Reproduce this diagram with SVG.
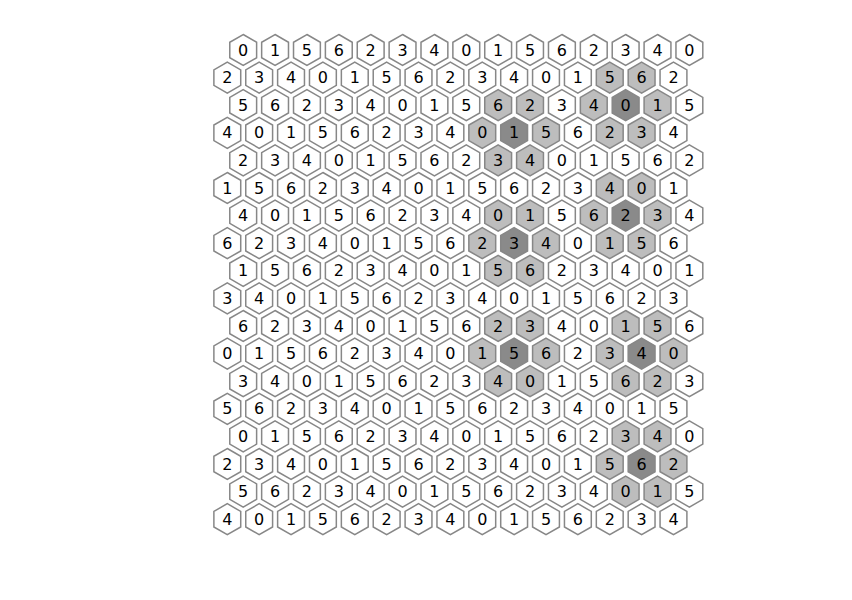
<svg xmlns="http://www.w3.org/2000/svg" xmlns:xlink="http://www.w3.org/1999/xlink" width="852" height="600" viewBox="0 0 852 600">
<defs>
<path id="hx" d="M0,-15.5 L13.42,-7.75 L13.42,7.75 L0,15.5 L-13.42,7.75 L-13.42,-7.75Z"/>
</defs>
<style>
use{fill:#ffffff;stroke:#878787;stroke-width:1.5}
.l use{fill:#bdbdbd}
.d use{fill:#8a8a8a}
text{font-family:"DejaVu Sans","Liberation Sans",sans-serif;font-size:16px;text-anchor:middle;fill:#000}
</style>
<rect width="852" height="600" fill="#ffffff"/>
<g id="connectors"/>
<g id="row0" transform="translate(0 50)">
<g id="n0-0" transform="translate(243.2 0)"><use href="#hx"/><text y="5.6">0</text></g>
<g id="n0-1" transform="translate(275.07 0)"><use href="#hx"/><text y="5.6">1</text></g>
<g id="n0-2" transform="translate(306.94 0)"><use href="#hx"/><text y="5.6">5</text></g>
<g id="n0-3" transform="translate(338.81 0)"><use href="#hx"/><text y="5.6">6</text></g>
<g id="n0-4" transform="translate(370.68 0)"><use href="#hx"/><text y="5.6">2</text></g>
<g id="n0-5" transform="translate(402.55 0)"><use href="#hx"/><text y="5.6">3</text></g>
<g id="n0-6" transform="translate(434.42 0)"><use href="#hx"/><text y="5.6">4</text></g>
<g id="n0-7" transform="translate(466.29 0)"><use href="#hx"/><text y="5.6">0</text></g>
<g id="n0-8" transform="translate(498.16 0)"><use href="#hx"/><text y="5.6">1</text></g>
<g id="n0-9" transform="translate(530.03 0)"><use href="#hx"/><text y="5.6">5</text></g>
<g id="n0-10" transform="translate(561.9 0)"><use href="#hx"/><text y="5.6">6</text></g>
<g id="n0-11" transform="translate(593.77 0)"><use href="#hx"/><text y="5.6">2</text></g>
<g id="n0-12" transform="translate(625.64 0)"><use href="#hx"/><text y="5.6">3</text></g>
<g id="n0-13" transform="translate(657.51 0)"><use href="#hx"/><text y="5.6">4</text></g>
<g id="n0-14" transform="translate(689.38 0)"><use href="#hx"/><text y="5.6">0</text></g>
</g>
<g id="row1" transform="translate(0 77.6)">
<g id="n1-0" transform="translate(227.3 0)"><use href="#hx"/><text y="5.6">2</text></g>
<g id="n1-1" transform="translate(259.17 0)"><use href="#hx"/><text y="5.6">3</text></g>
<g id="n1-2" transform="translate(291.04 0)"><use href="#hx"/><text y="5.6">4</text></g>
<g id="n1-3" transform="translate(322.91 0)"><use href="#hx"/><text y="5.6">0</text></g>
<g id="n1-4" transform="translate(354.78 0)"><use href="#hx"/><text y="5.6">1</text></g>
<g id="n1-5" transform="translate(386.65 0)"><use href="#hx"/><text y="5.6">5</text></g>
<g id="n1-6" transform="translate(418.52 0)"><use href="#hx"/><text y="5.6">6</text></g>
<g id="n1-7" transform="translate(450.39 0)"><use href="#hx"/><text y="5.6">2</text></g>
<g id="n1-8" transform="translate(482.26 0)"><use href="#hx"/><text y="5.6">3</text></g>
<g id="n1-9" transform="translate(514.13 0)"><use href="#hx"/><text y="5.6">4</text></g>
<g id="n1-10" transform="translate(546 0)"><use href="#hx"/><text y="5.6">0</text></g>
<g id="n1-11" transform="translate(577.87 0)"><use href="#hx"/><text y="5.6">1</text></g>
<g id="n1-12" class="l" transform="translate(609.74 0)"><use href="#hx"/><text y="5.6">5</text></g>
<g id="n1-13" class="l" transform="translate(641.61 0)"><use href="#hx"/><text y="5.6">6</text></g>
<g id="n1-14" transform="translate(673.48 0)"><use href="#hx"/><text y="5.6">2</text></g>
</g>
<g id="row2" transform="translate(0 105.2)">
<g id="n2-0" transform="translate(243.2 0)"><use href="#hx"/><text y="5.6">5</text></g>
<g id="n2-1" transform="translate(275.07 0)"><use href="#hx"/><text y="5.6">6</text></g>
<g id="n2-2" transform="translate(306.94 0)"><use href="#hx"/><text y="5.6">2</text></g>
<g id="n2-3" transform="translate(338.81 0)"><use href="#hx"/><text y="5.6">3</text></g>
<g id="n2-4" transform="translate(370.68 0)"><use href="#hx"/><text y="5.6">4</text></g>
<g id="n2-5" transform="translate(402.55 0)"><use href="#hx"/><text y="5.6">0</text></g>
<g id="n2-6" transform="translate(434.42 0)"><use href="#hx"/><text y="5.6">1</text></g>
<g id="n2-7" transform="translate(466.29 0)"><use href="#hx"/><text y="5.6">5</text></g>
<g id="n2-8" class="l" transform="translate(498.16 0)"><use href="#hx"/><text y="5.6">6</text></g>
<g id="n2-9" class="l" transform="translate(530.03 0)"><use href="#hx"/><text y="5.6">2</text></g>
<g id="n2-10" transform="translate(561.9 0)"><use href="#hx"/><text y="5.6">3</text></g>
<g id="n2-11" class="l" transform="translate(593.77 0)"><use href="#hx"/><text y="5.6">4</text></g>
<g id="n2-12" class="d" transform="translate(625.64 0)"><use href="#hx"/><text y="5.6">0</text></g>
<g id="n2-13" class="l" transform="translate(657.51 0)"><use href="#hx"/><text y="5.6">1</text></g>
<g id="n2-14" transform="translate(689.38 0)"><use href="#hx"/><text y="5.6">5</text></g>
</g>
<g id="row3" transform="translate(0 132.8)">
<g id="n3-0" transform="translate(227.3 0)"><use href="#hx"/><text y="5.6">4</text></g>
<g id="n3-1" transform="translate(259.17 0)"><use href="#hx"/><text y="5.6">0</text></g>
<g id="n3-2" transform="translate(291.04 0)"><use href="#hx"/><text y="5.6">1</text></g>
<g id="n3-3" transform="translate(322.91 0)"><use href="#hx"/><text y="5.6">5</text></g>
<g id="n3-4" transform="translate(354.78 0)"><use href="#hx"/><text y="5.6">6</text></g>
<g id="n3-5" transform="translate(386.65 0)"><use href="#hx"/><text y="5.6">2</text></g>
<g id="n3-6" transform="translate(418.52 0)"><use href="#hx"/><text y="5.6">3</text></g>
<g id="n3-7" transform="translate(450.39 0)"><use href="#hx"/><text y="5.6">4</text></g>
<g id="n3-8" class="l" transform="translate(482.26 0)"><use href="#hx"/><text y="5.6">0</text></g>
<g id="n3-9" class="d" transform="translate(514.13 0)"><use href="#hx"/><text y="5.6">1</text></g>
<g id="n3-10" class="l" transform="translate(546 0)"><use href="#hx"/><text y="5.6">5</text></g>
<g id="n3-11" transform="translate(577.87 0)"><use href="#hx"/><text y="5.6">6</text></g>
<g id="n3-12" class="l" transform="translate(609.74 0)"><use href="#hx"/><text y="5.6">2</text></g>
<g id="n3-13" class="l" transform="translate(641.61 0)"><use href="#hx"/><text y="5.6">3</text></g>
<g id="n3-14" transform="translate(673.48 0)"><use href="#hx"/><text y="5.6">4</text></g>
</g>
<g id="row4" transform="translate(0 160.4)">
<g id="n4-0" transform="translate(243.2 0)"><use href="#hx"/><text y="5.6">2</text></g>
<g id="n4-1" transform="translate(275.07 0)"><use href="#hx"/><text y="5.6">3</text></g>
<g id="n4-2" transform="translate(306.94 0)"><use href="#hx"/><text y="5.6">4</text></g>
<g id="n4-3" transform="translate(338.81 0)"><use href="#hx"/><text y="5.6">0</text></g>
<g id="n4-4" transform="translate(370.68 0)"><use href="#hx"/><text y="5.6">1</text></g>
<g id="n4-5" transform="translate(402.55 0)"><use href="#hx"/><text y="5.6">5</text></g>
<g id="n4-6" transform="translate(434.42 0)"><use href="#hx"/><text y="5.6">6</text></g>
<g id="n4-7" transform="translate(466.29 0)"><use href="#hx"/><text y="5.6">2</text></g>
<g id="n4-8" class="l" transform="translate(498.16 0)"><use href="#hx"/><text y="5.6">3</text></g>
<g id="n4-9" class="l" transform="translate(530.03 0)"><use href="#hx"/><text y="5.6">4</text></g>
<g id="n4-10" transform="translate(561.9 0)"><use href="#hx"/><text y="5.6">0</text></g>
<g id="n4-11" transform="translate(593.77 0)"><use href="#hx"/><text y="5.6">1</text></g>
<g id="n4-12" transform="translate(625.64 0)"><use href="#hx"/><text y="5.6">5</text></g>
<g id="n4-13" transform="translate(657.51 0)"><use href="#hx"/><text y="5.6">6</text></g>
<g id="n4-14" transform="translate(689.38 0)"><use href="#hx"/><text y="5.6">2</text></g>
</g>
<g id="row5" transform="translate(0 188)">
<g id="n5-0" transform="translate(227.3 0)"><use href="#hx"/><text y="5.6">1</text></g>
<g id="n5-1" transform="translate(259.17 0)"><use href="#hx"/><text y="5.6">5</text></g>
<g id="n5-2" transform="translate(291.04 0)"><use href="#hx"/><text y="5.6">6</text></g>
<g id="n5-3" transform="translate(322.91 0)"><use href="#hx"/><text y="5.6">2</text></g>
<g id="n5-4" transform="translate(354.78 0)"><use href="#hx"/><text y="5.6">3</text></g>
<g id="n5-5" transform="translate(386.65 0)"><use href="#hx"/><text y="5.6">4</text></g>
<g id="n5-6" transform="translate(418.52 0)"><use href="#hx"/><text y="5.6">0</text></g>
<g id="n5-7" transform="translate(450.39 0)"><use href="#hx"/><text y="5.6">1</text></g>
<g id="n5-8" transform="translate(482.26 0)"><use href="#hx"/><text y="5.6">5</text></g>
<g id="n5-9" transform="translate(514.13 0)"><use href="#hx"/><text y="5.6">6</text></g>
<g id="n5-10" transform="translate(546 0)"><use href="#hx"/><text y="5.6">2</text></g>
<g id="n5-11" transform="translate(577.87 0)"><use href="#hx"/><text y="5.6">3</text></g>
<g id="n5-12" class="l" transform="translate(609.74 0)"><use href="#hx"/><text y="5.6">4</text></g>
<g id="n5-13" class="l" transform="translate(641.61 0)"><use href="#hx"/><text y="5.6">0</text></g>
<g id="n5-14" transform="translate(673.48 0)"><use href="#hx"/><text y="5.6">1</text></g>
</g>
<g id="row6" transform="translate(0 215.6)">
<g id="n6-0" transform="translate(243.2 0)"><use href="#hx"/><text y="5.6">4</text></g>
<g id="n6-1" transform="translate(275.07 0)"><use href="#hx"/><text y="5.6">0</text></g>
<g id="n6-2" transform="translate(306.94 0)"><use href="#hx"/><text y="5.6">1</text></g>
<g id="n6-3" transform="translate(338.81 0)"><use href="#hx"/><text y="5.6">5</text></g>
<g id="n6-4" transform="translate(370.68 0)"><use href="#hx"/><text y="5.6">6</text></g>
<g id="n6-5" transform="translate(402.55 0)"><use href="#hx"/><text y="5.6">2</text></g>
<g id="n6-6" transform="translate(434.42 0)"><use href="#hx"/><text y="5.6">3</text></g>
<g id="n6-7" transform="translate(466.29 0)"><use href="#hx"/><text y="5.6">4</text></g>
<g id="n6-8" class="l" transform="translate(498.16 0)"><use href="#hx"/><text y="5.6">0</text></g>
<g id="n6-9" class="l" transform="translate(530.03 0)"><use href="#hx"/><text y="5.6">1</text></g>
<g id="n6-10" transform="translate(561.9 0)"><use href="#hx"/><text y="5.6">5</text></g>
<g id="n6-11" class="l" transform="translate(593.77 0)"><use href="#hx"/><text y="5.6">6</text></g>
<g id="n6-12" class="d" transform="translate(625.64 0)"><use href="#hx"/><text y="5.6">2</text></g>
<g id="n6-13" class="l" transform="translate(657.51 0)"><use href="#hx"/><text y="5.6">3</text></g>
<g id="n6-14" transform="translate(689.38 0)"><use href="#hx"/><text y="5.6">4</text></g>
</g>
<g id="row7" transform="translate(0 243.2)">
<g id="n7-0" transform="translate(227.3 0)"><use href="#hx"/><text y="5.6">6</text></g>
<g id="n7-1" transform="translate(259.17 0)"><use href="#hx"/><text y="5.6">2</text></g>
<g id="n7-2" transform="translate(291.04 0)"><use href="#hx"/><text y="5.6">3</text></g>
<g id="n7-3" transform="translate(322.91 0)"><use href="#hx"/><text y="5.6">4</text></g>
<g id="n7-4" transform="translate(354.78 0)"><use href="#hx"/><text y="5.6">0</text></g>
<g id="n7-5" transform="translate(386.65 0)"><use href="#hx"/><text y="5.6">1</text></g>
<g id="n7-6" transform="translate(418.52 0)"><use href="#hx"/><text y="5.6">5</text></g>
<g id="n7-7" transform="translate(450.39 0)"><use href="#hx"/><text y="5.6">6</text></g>
<g id="n7-8" class="l" transform="translate(482.26 0)"><use href="#hx"/><text y="5.6">2</text></g>
<g id="n7-9" class="d" transform="translate(514.13 0)"><use href="#hx"/><text y="5.6">3</text></g>
<g id="n7-10" class="l" transform="translate(546 0)"><use href="#hx"/><text y="5.6">4</text></g>
<g id="n7-11" transform="translate(577.87 0)"><use href="#hx"/><text y="5.6">0</text></g>
<g id="n7-12" class="l" transform="translate(609.74 0)"><use href="#hx"/><text y="5.6">1</text></g>
<g id="n7-13" class="l" transform="translate(641.61 0)"><use href="#hx"/><text y="5.6">5</text></g>
<g id="n7-14" transform="translate(673.48 0)"><use href="#hx"/><text y="5.6">6</text></g>
</g>
<g id="row8" transform="translate(0 270.8)">
<g id="n8-0" transform="translate(243.2 0)"><use href="#hx"/><text y="5.6">1</text></g>
<g id="n8-1" transform="translate(275.07 0)"><use href="#hx"/><text y="5.6">5</text></g>
<g id="n8-2" transform="translate(306.94 0)"><use href="#hx"/><text y="5.6">6</text></g>
<g id="n8-3" transform="translate(338.81 0)"><use href="#hx"/><text y="5.6">2</text></g>
<g id="n8-4" transform="translate(370.68 0)"><use href="#hx"/><text y="5.6">3</text></g>
<g id="n8-5" transform="translate(402.55 0)"><use href="#hx"/><text y="5.6">4</text></g>
<g id="n8-6" transform="translate(434.42 0)"><use href="#hx"/><text y="5.6">0</text></g>
<g id="n8-7" transform="translate(466.29 0)"><use href="#hx"/><text y="5.6">1</text></g>
<g id="n8-8" class="l" transform="translate(498.16 0)"><use href="#hx"/><text y="5.6">5</text></g>
<g id="n8-9" class="l" transform="translate(530.03 0)"><use href="#hx"/><text y="5.6">6</text></g>
<g id="n8-10" transform="translate(561.9 0)"><use href="#hx"/><text y="5.6">2</text></g>
<g id="n8-11" transform="translate(593.77 0)"><use href="#hx"/><text y="5.6">3</text></g>
<g id="n8-12" transform="translate(625.64 0)"><use href="#hx"/><text y="5.6">4</text></g>
<g id="n8-13" transform="translate(657.51 0)"><use href="#hx"/><text y="5.6">0</text></g>
<g id="n8-14" transform="translate(689.38 0)"><use href="#hx"/><text y="5.6">1</text></g>
</g>
<g id="row9" transform="translate(0 298.4)">
<g id="n9-0" transform="translate(227.3 0)"><use href="#hx"/><text y="5.6">3</text></g>
<g id="n9-1" transform="translate(259.17 0)"><use href="#hx"/><text y="5.6">4</text></g>
<g id="n9-2" transform="translate(291.04 0)"><use href="#hx"/><text y="5.6">0</text></g>
<g id="n9-3" transform="translate(322.91 0)"><use href="#hx"/><text y="5.6">1</text></g>
<g id="n9-4" transform="translate(354.78 0)"><use href="#hx"/><text y="5.6">5</text></g>
<g id="n9-5" transform="translate(386.65 0)"><use href="#hx"/><text y="5.6">6</text></g>
<g id="n9-6" transform="translate(418.52 0)"><use href="#hx"/><text y="5.6">2</text></g>
<g id="n9-7" transform="translate(450.39 0)"><use href="#hx"/><text y="5.6">3</text></g>
<g id="n9-8" transform="translate(482.26 0)"><use href="#hx"/><text y="5.6">4</text></g>
<g id="n9-9" transform="translate(514.13 0)"><use href="#hx"/><text y="5.6">0</text></g>
<g id="n9-10" transform="translate(546 0)"><use href="#hx"/><text y="5.6">1</text></g>
<g id="n9-11" transform="translate(577.87 0)"><use href="#hx"/><text y="5.6">5</text></g>
<g id="n9-12" transform="translate(609.74 0)"><use href="#hx"/><text y="5.6">6</text></g>
<g id="n9-13" transform="translate(641.61 0)"><use href="#hx"/><text y="5.6">2</text></g>
<g id="n9-14" transform="translate(673.48 0)"><use href="#hx"/><text y="5.6">3</text></g>
</g>
<g id="row10" transform="translate(0 326)">
<g id="n10-0" transform="translate(243.2 0)"><use href="#hx"/><text y="5.6">6</text></g>
<g id="n10-1" transform="translate(275.07 0)"><use href="#hx"/><text y="5.6">2</text></g>
<g id="n10-2" transform="translate(306.94 0)"><use href="#hx"/><text y="5.6">3</text></g>
<g id="n10-3" transform="translate(338.81 0)"><use href="#hx"/><text y="5.6">4</text></g>
<g id="n10-4" transform="translate(370.68 0)"><use href="#hx"/><text y="5.6">0</text></g>
<g id="n10-5" transform="translate(402.55 0)"><use href="#hx"/><text y="5.6">1</text></g>
<g id="n10-6" transform="translate(434.42 0)"><use href="#hx"/><text y="5.6">5</text></g>
<g id="n10-7" transform="translate(466.29 0)"><use href="#hx"/><text y="5.6">6</text></g>
<g id="n10-8" class="l" transform="translate(498.16 0)"><use href="#hx"/><text y="5.6">2</text></g>
<g id="n10-9" class="l" transform="translate(530.03 0)"><use href="#hx"/><text y="5.6">3</text></g>
<g id="n10-10" transform="translate(561.9 0)"><use href="#hx"/><text y="5.6">4</text></g>
<g id="n10-11" transform="translate(593.77 0)"><use href="#hx"/><text y="5.6">0</text></g>
<g id="n10-12" class="l" transform="translate(625.64 0)"><use href="#hx"/><text y="5.6">1</text></g>
<g id="n10-13" class="l" transform="translate(657.51 0)"><use href="#hx"/><text y="5.6">5</text></g>
<g id="n10-14" transform="translate(689.38 0)"><use href="#hx"/><text y="5.6">6</text></g>
</g>
<g id="row11" transform="translate(0 353.6)">
<g id="n11-0" transform="translate(227.3 0)"><use href="#hx"/><text y="5.6">0</text></g>
<g id="n11-1" transform="translate(259.17 0)"><use href="#hx"/><text y="5.6">1</text></g>
<g id="n11-2" transform="translate(291.04 0)"><use href="#hx"/><text y="5.6">5</text></g>
<g id="n11-3" transform="translate(322.91 0)"><use href="#hx"/><text y="5.6">6</text></g>
<g id="n11-4" transform="translate(354.78 0)"><use href="#hx"/><text y="5.6">2</text></g>
<g id="n11-5" transform="translate(386.65 0)"><use href="#hx"/><text y="5.6">3</text></g>
<g id="n11-6" transform="translate(418.52 0)"><use href="#hx"/><text y="5.6">4</text></g>
<g id="n11-7" transform="translate(450.39 0)"><use href="#hx"/><text y="5.6">0</text></g>
<g id="n11-8" class="l" transform="translate(482.26 0)"><use href="#hx"/><text y="5.6">1</text></g>
<g id="n11-9" class="d" transform="translate(514.13 0)"><use href="#hx"/><text y="5.6">5</text></g>
<g id="n11-10" class="l" transform="translate(546 0)"><use href="#hx"/><text y="5.6">6</text></g>
<g id="n11-11" transform="translate(577.87 0)"><use href="#hx"/><text y="5.6">2</text></g>
<g id="n11-12" class="l" transform="translate(609.74 0)"><use href="#hx"/><text y="5.6">3</text></g>
<g id="n11-13" class="d" transform="translate(641.61 0)"><use href="#hx"/><text y="5.6">4</text></g>
<g id="n11-14" class="l" transform="translate(673.48 0)"><use href="#hx"/><text y="5.6">0</text></g>
</g>
<g id="row12" transform="translate(0 381.2)">
<g id="n12-0" transform="translate(243.2 0)"><use href="#hx"/><text y="5.6">3</text></g>
<g id="n12-1" transform="translate(275.07 0)"><use href="#hx"/><text y="5.6">4</text></g>
<g id="n12-2" transform="translate(306.94 0)"><use href="#hx"/><text y="5.6">0</text></g>
<g id="n12-3" transform="translate(338.81 0)"><use href="#hx"/><text y="5.6">1</text></g>
<g id="n12-4" transform="translate(370.68 0)"><use href="#hx"/><text y="5.6">5</text></g>
<g id="n12-5" transform="translate(402.55 0)"><use href="#hx"/><text y="5.6">6</text></g>
<g id="n12-6" transform="translate(434.42 0)"><use href="#hx"/><text y="5.6">2</text></g>
<g id="n12-7" transform="translate(466.29 0)"><use href="#hx"/><text y="5.6">3</text></g>
<g id="n12-8" class="l" transform="translate(498.16 0)"><use href="#hx"/><text y="5.6">4</text></g>
<g id="n12-9" class="l" transform="translate(530.03 0)"><use href="#hx"/><text y="5.6">0</text></g>
<g id="n12-10" transform="translate(561.9 0)"><use href="#hx"/><text y="5.6">1</text></g>
<g id="n12-11" transform="translate(593.77 0)"><use href="#hx"/><text y="5.6">5</text></g>
<g id="n12-12" class="l" transform="translate(625.64 0)"><use href="#hx"/><text y="5.6">6</text></g>
<g id="n12-13" class="l" transform="translate(657.51 0)"><use href="#hx"/><text y="5.6">2</text></g>
<g id="n12-14" transform="translate(689.38 0)"><use href="#hx"/><text y="5.6">3</text></g>
</g>
<g id="row13" transform="translate(0 408.8)">
<g id="n13-0" transform="translate(227.3 0)"><use href="#hx"/><text y="5.6">5</text></g>
<g id="n13-1" transform="translate(259.17 0)"><use href="#hx"/><text y="5.6">6</text></g>
<g id="n13-2" transform="translate(291.04 0)"><use href="#hx"/><text y="5.6">2</text></g>
<g id="n13-3" transform="translate(322.91 0)"><use href="#hx"/><text y="5.6">3</text></g>
<g id="n13-4" transform="translate(354.78 0)"><use href="#hx"/><text y="5.6">4</text></g>
<g id="n13-5" transform="translate(386.65 0)"><use href="#hx"/><text y="5.6">0</text></g>
<g id="n13-6" transform="translate(418.52 0)"><use href="#hx"/><text y="5.6">1</text></g>
<g id="n13-7" transform="translate(450.39 0)"><use href="#hx"/><text y="5.6">5</text></g>
<g id="n13-8" transform="translate(482.26 0)"><use href="#hx"/><text y="5.6">6</text></g>
<g id="n13-9" transform="translate(514.13 0)"><use href="#hx"/><text y="5.6">2</text></g>
<g id="n13-10" transform="translate(546 0)"><use href="#hx"/><text y="5.6">3</text></g>
<g id="n13-11" transform="translate(577.87 0)"><use href="#hx"/><text y="5.6">4</text></g>
<g id="n13-12" transform="translate(609.74 0)"><use href="#hx"/><text y="5.6">0</text></g>
<g id="n13-13" transform="translate(641.61 0)"><use href="#hx"/><text y="5.6">1</text></g>
<g id="n13-14" transform="translate(673.48 0)"><use href="#hx"/><text y="5.6">5</text></g>
</g>
<g id="row14" transform="translate(0 436.4)">
<g id="n14-0" transform="translate(243.2 0)"><use href="#hx"/><text y="5.6">0</text></g>
<g id="n14-1" transform="translate(275.07 0)"><use href="#hx"/><text y="5.6">1</text></g>
<g id="n14-2" transform="translate(306.94 0)"><use href="#hx"/><text y="5.6">5</text></g>
<g id="n14-3" transform="translate(338.81 0)"><use href="#hx"/><text y="5.6">6</text></g>
<g id="n14-4" transform="translate(370.68 0)"><use href="#hx"/><text y="5.6">2</text></g>
<g id="n14-5" transform="translate(402.55 0)"><use href="#hx"/><text y="5.6">3</text></g>
<g id="n14-6" transform="translate(434.42 0)"><use href="#hx"/><text y="5.6">4</text></g>
<g id="n14-7" transform="translate(466.29 0)"><use href="#hx"/><text y="5.6">0</text></g>
<g id="n14-8" transform="translate(498.16 0)"><use href="#hx"/><text y="5.6">1</text></g>
<g id="n14-9" transform="translate(530.03 0)"><use href="#hx"/><text y="5.6">5</text></g>
<g id="n14-10" transform="translate(561.9 0)"><use href="#hx"/><text y="5.6">6</text></g>
<g id="n14-11" transform="translate(593.77 0)"><use href="#hx"/><text y="5.6">2</text></g>
<g id="n14-12" class="l" transform="translate(625.64 0)"><use href="#hx"/><text y="5.6">3</text></g>
<g id="n14-13" class="l" transform="translate(657.51 0)"><use href="#hx"/><text y="5.6">4</text></g>
<g id="n14-14" transform="translate(689.38 0)"><use href="#hx"/><text y="5.6">0</text></g>
</g>
<g id="row15" transform="translate(0 464)">
<g id="n15-0" transform="translate(227.3 0)"><use href="#hx"/><text y="5.6">2</text></g>
<g id="n15-1" transform="translate(259.17 0)"><use href="#hx"/><text y="5.6">3</text></g>
<g id="n15-2" transform="translate(291.04 0)"><use href="#hx"/><text y="5.6">4</text></g>
<g id="n15-3" transform="translate(322.91 0)"><use href="#hx"/><text y="5.6">0</text></g>
<g id="n15-4" transform="translate(354.78 0)"><use href="#hx"/><text y="5.6">1</text></g>
<g id="n15-5" transform="translate(386.65 0)"><use href="#hx"/><text y="5.6">5</text></g>
<g id="n15-6" transform="translate(418.52 0)"><use href="#hx"/><text y="5.6">6</text></g>
<g id="n15-7" transform="translate(450.39 0)"><use href="#hx"/><text y="5.6">2</text></g>
<g id="n15-8" transform="translate(482.26 0)"><use href="#hx"/><text y="5.6">3</text></g>
<g id="n15-9" transform="translate(514.13 0)"><use href="#hx"/><text y="5.6">4</text></g>
<g id="n15-10" transform="translate(546 0)"><use href="#hx"/><text y="5.6">0</text></g>
<g id="n15-11" transform="translate(577.87 0)"><use href="#hx"/><text y="5.6">1</text></g>
<g id="n15-12" class="l" transform="translate(609.74 0)"><use href="#hx"/><text y="5.6">5</text></g>
<g id="n15-13" class="d" transform="translate(641.61 0)"><use href="#hx"/><text y="5.6">6</text></g>
<g id="n15-14" class="l" transform="translate(673.48 0)"><use href="#hx"/><text y="5.6">2</text></g>
</g>
<g id="row16" transform="translate(0 491.6)">
<g id="n16-0" transform="translate(243.2 0)"><use href="#hx"/><text y="5.6">5</text></g>
<g id="n16-1" transform="translate(275.07 0)"><use href="#hx"/><text y="5.6">6</text></g>
<g id="n16-2" transform="translate(306.94 0)"><use href="#hx"/><text y="5.6">2</text></g>
<g id="n16-3" transform="translate(338.81 0)"><use href="#hx"/><text y="5.6">3</text></g>
<g id="n16-4" transform="translate(370.68 0)"><use href="#hx"/><text y="5.6">4</text></g>
<g id="n16-5" transform="translate(402.55 0)"><use href="#hx"/><text y="5.6">0</text></g>
<g id="n16-6" transform="translate(434.42 0)"><use href="#hx"/><text y="5.6">1</text></g>
<g id="n16-7" transform="translate(466.29 0)"><use href="#hx"/><text y="5.6">5</text></g>
<g id="n16-8" transform="translate(498.16 0)"><use href="#hx"/><text y="5.6">6</text></g>
<g id="n16-9" transform="translate(530.03 0)"><use href="#hx"/><text y="5.6">2</text></g>
<g id="n16-10" transform="translate(561.9 0)"><use href="#hx"/><text y="5.6">3</text></g>
<g id="n16-11" transform="translate(593.77 0)"><use href="#hx"/><text y="5.6">4</text></g>
<g id="n16-12" class="l" transform="translate(625.64 0)"><use href="#hx"/><text y="5.6">0</text></g>
<g id="n16-13" class="l" transform="translate(657.51 0)"><use href="#hx"/><text y="5.6">1</text></g>
<g id="n16-14" transform="translate(689.38 0)"><use href="#hx"/><text y="5.6">5</text></g>
</g>
<g id="row17" transform="translate(0 519.2)">
<g id="n17-0" transform="translate(227.3 0)"><use href="#hx"/><text y="5.6">4</text></g>
<g id="n17-1" transform="translate(259.17 0)"><use href="#hx"/><text y="5.6">0</text></g>
<g id="n17-2" transform="translate(291.04 0)"><use href="#hx"/><text y="5.6">1</text></g>
<g id="n17-3" transform="translate(322.91 0)"><use href="#hx"/><text y="5.6">5</text></g>
<g id="n17-4" transform="translate(354.78 0)"><use href="#hx"/><text y="5.6">6</text></g>
<g id="n17-5" transform="translate(386.65 0)"><use href="#hx"/><text y="5.6">2</text></g>
<g id="n17-6" transform="translate(418.52 0)"><use href="#hx"/><text y="5.6">3</text></g>
<g id="n17-7" transform="translate(450.39 0)"><use href="#hx"/><text y="5.6">4</text></g>
<g id="n17-8" transform="translate(482.26 0)"><use href="#hx"/><text y="5.6">0</text></g>
<g id="n17-9" transform="translate(514.13 0)"><use href="#hx"/><text y="5.6">1</text></g>
<g id="n17-10" transform="translate(546 0)"><use href="#hx"/><text y="5.6">5</text></g>
<g id="n17-11" transform="translate(577.87 0)"><use href="#hx"/><text y="5.6">6</text></g>
<g id="n17-12" transform="translate(609.74 0)"><use href="#hx"/><text y="5.6">2</text></g>
<g id="n17-13" transform="translate(641.61 0)"><use href="#hx"/><text y="5.6">3</text></g>
<g id="n17-14" transform="translate(673.48 0)"><use href="#hx"/><text y="5.6">4</text></g>
</g>
</svg>
